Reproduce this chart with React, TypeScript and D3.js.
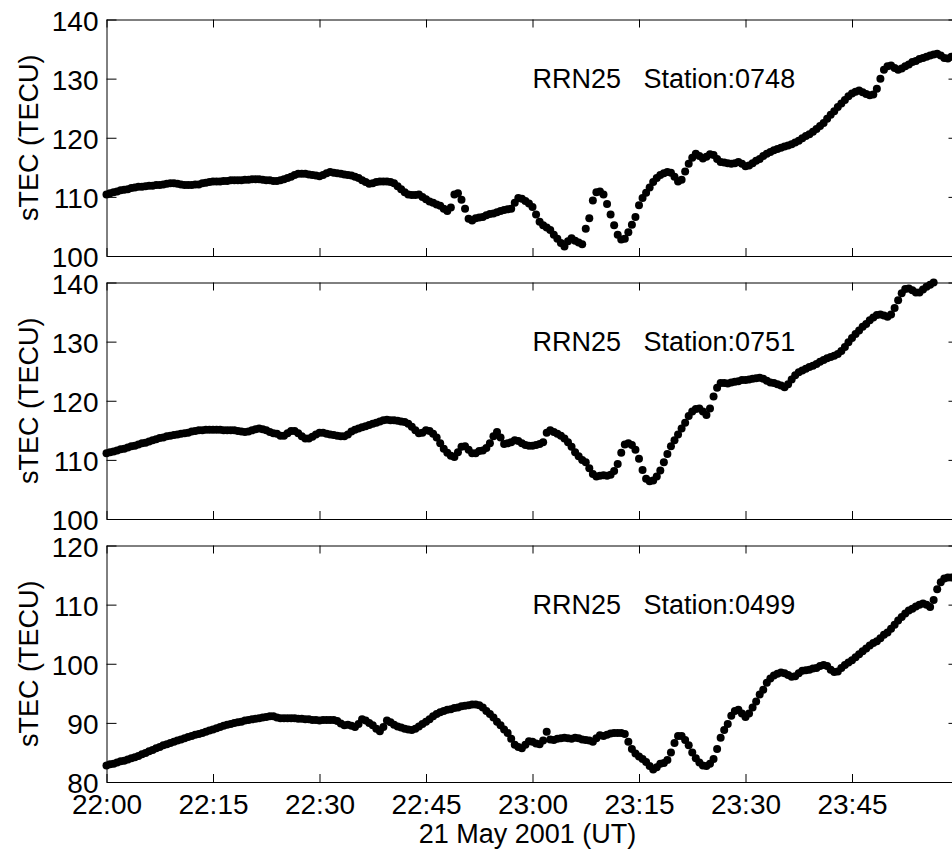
import { useRef, useEffect } from "react";
import { select, scaleLinear, axisLeft, axisRight, axisBottom, axisTop } from "d3";

// Time axis (minutes after 22:00 UT, 21 May 2001)
const xTickMinutes = [0, 15, 30, 45, 60, 75, 90, 105];
const xTickLabels = ["22:00", "22:15", "22:30", "22:45", "23:00", "23:15", "23:30", "23:45"];
const sampleStep = 0.5; // one sample every 30 s

// Panels
const satellite = "RRN25";
const stations = ["0748", "0751", "0499"];
const yDomains = [[100, 140], [100, 140], [80, 120]];
const yTicks = [
    [100, 110, 120, 130, 140],
    [100, 110, 120, 130, 140],
    [80, 90, 100, 110, 120],
];

// sTEC (TECU), 30 s samples from 22:00
const sTec0748 = [
    110.4, 110.6, 110.8, 110.9, 111.1, 111.2, 111.3, 111.5, 111.6, 111.7, 111.7, 111.8, 111.9, 111.9, 112.0, 112.0,
    112.1, 112.2, 112.3, 112.3, 112.2, 112.1, 112.0, 112.0, 112.0, 112.1, 112.1, 112.3, 112.4, 112.5, 112.6, 112.6,
    112.6, 112.7, 112.7, 112.8, 112.8, 112.8, 112.8, 112.9, 112.9, 113.0, 113.0, 113.0, 112.9, 112.8, 112.8, 112.7,
    112.7, 112.8, 113.0, 113.2, 113.4, 113.7, 113.9, 113.9, 113.9, 113.8, 113.7, 113.6, 113.5, 113.7, 114.0, 114.2,
    114.1, 114.0, 113.9, 113.8, 113.7, 113.6, 113.4, 113.2, 112.8, 112.5, 112.2, 112.3, 112.5, 112.6, 112.6, 112.6,
    112.5, 112.3, 111.8, 111.3, 110.8, 110.4, 110.3, 110.3, 110.4, 110.0, 109.6, 109.2, 109.0, 108.7, 108.5, 108.0,
    107.6, 108.2, 110.4, 110.6, 109.5, 108.0, 106.3, 106.0, 106.4, 106.5, 106.6, 106.9, 107.1, 107.2, 107.4, 107.6,
    107.8, 107.9, 108.0, 109.0, 109.8, 109.7, 109.3, 108.9, 108.3, 107.0, 105.8, 105.2, 104.8, 104.4, 103.6, 102.9,
    102.2, 101.6, 102.5, 103.0, 102.6, 102.3, 102.0, 104.6, 106.4, 109.4, 110.8, 110.9, 110.4, 108.8, 107.0, 105.2,
    103.6, 102.8, 102.9, 104.0, 105.3, 106.6, 108.6, 109.8, 110.7, 111.6, 112.5, 113.2, 113.7, 114.0, 114.2, 114.1,
    113.4, 112.6, 112.9, 114.3, 115.6, 116.6, 117.3, 116.9, 116.5, 116.8, 117.2, 117.1, 116.4, 115.9, 115.8, 115.7,
    115.6, 115.7, 115.9, 115.6, 115.2, 115.3, 115.7, 116.1, 116.4, 116.9, 117.3, 117.6, 117.9, 118.1, 118.3, 118.5,
    118.7, 118.9, 119.2, 119.5, 119.9, 120.3, 120.6, 121.0, 121.5, 122.0, 122.5, 123.2, 123.9, 124.5, 125.2, 125.8,
    126.4, 127.0, 127.5, 127.8, 128.0, 127.7, 127.4, 127.2, 127.3, 128.3, 130.0, 131.5, 132.1, 132.2, 131.8, 131.5,
    131.7, 132.1, 132.4, 132.8, 133.0, 133.3, 133.5, 133.7, 133.9, 134.1, 134.2, 133.9, 133.5, 133.4, 133.7,
];

const sTec0751 = [
    111.1, 111.3, 111.4, 111.6, 111.8, 111.9, 112.1, 112.3, 112.4, 112.6, 112.8, 112.9, 113.1, 113.3, 113.5, 113.7,
    113.8, 114.0, 114.1, 114.2, 114.3, 114.4, 114.5, 114.6, 114.8, 114.9, 115.0, 115.0, 115.1, 115.1, 115.1, 115.1,
    115.1, 115.0, 115.0, 115.0, 115.0, 114.9, 114.8, 114.7, 114.8, 115.0, 115.2, 115.3, 115.2, 115.0, 114.7, 114.5,
    114.4, 114.1, 114.1, 114.5, 114.9, 114.9, 114.5, 114.0, 113.6, 113.6, 113.9, 114.3, 114.6, 114.6, 114.4, 114.3,
    114.2, 114.1, 114.0, 114.0, 114.3, 114.8, 115.1, 115.3, 115.5, 115.7, 115.9, 116.1, 116.3, 116.5, 116.7, 116.8,
    116.7, 116.7, 116.6, 116.5, 116.4, 116.1, 115.6, 115.0, 114.5, 114.6, 115.0, 114.9, 114.4, 113.8, 112.8, 111.9,
    111.2, 110.7, 110.5, 111.3, 112.2, 112.3, 111.7, 111.1, 111.1, 111.5, 111.6, 112.0, 112.8, 114.0, 114.7, 113.8,
    112.7, 112.8, 113.0, 113.3, 113.2, 112.8, 112.5, 112.4, 112.4, 112.5, 112.7, 113.0, 114.6, 115.0, 114.7, 114.4,
    114.1, 113.6, 113.0, 112.2, 111.3, 110.6, 110.0, 109.6, 108.6, 107.6, 107.2, 107.3, 107.4, 107.3, 107.5, 108.1,
    109.3, 111.2, 112.6, 112.8, 112.5, 111.7, 110.2, 108.3, 106.8, 106.4, 106.5, 107.2, 108.2, 109.6, 111.0, 112.3,
    113.3, 114.3, 115.3, 116.3, 117.4, 118.2, 118.6, 118.7, 118.2, 117.6, 118.7, 120.7, 122.2, 123.0, 123.0, 122.9,
    123.1, 123.2, 123.3, 123.5, 123.5, 123.6, 123.7, 123.8, 123.9, 123.7, 123.4, 123.1, 123.0, 122.8, 122.6, 122.3,
    122.8, 123.6, 124.3, 124.8, 125.1, 125.4, 125.7, 125.9, 126.2, 126.6, 126.9, 127.2, 127.4, 127.6, 127.9, 128.4,
    129.1, 129.9, 130.6, 131.3, 131.9, 132.5, 133.0, 133.6, 134.1, 134.5, 134.6, 134.4, 134.2, 134.6, 135.7, 137.0,
    138.2, 138.9, 139.0, 138.7, 138.3, 138.3, 138.8, 139.3, 139.6, 140.0,
];

const sTec0499 = [
    82.8, 83.0, 83.1, 83.3, 83.5, 83.6, 83.8, 84.0, 84.2, 84.4, 84.7, 84.9, 85.2, 85.4, 85.7, 85.9,
    86.2, 86.4, 86.6, 86.8, 87.0, 87.2, 87.4, 87.6, 87.8, 88.0, 88.1, 88.3, 88.5, 88.7, 88.9, 89.1,
    89.3, 89.5, 89.7, 89.8, 90.0, 90.1, 90.2, 90.4, 90.5, 90.6, 90.7, 90.8, 90.9, 91.0, 91.1, 91.1,
    90.9, 90.8, 90.8, 90.8, 90.8, 90.8, 90.7, 90.7, 90.6, 90.6, 90.5, 90.5, 90.4, 90.5, 90.5, 90.5,
    90.5, 90.3, 89.9, 89.6, 89.7, 89.5, 89.3, 89.8, 90.6, 90.4, 90.0, 89.6, 89.0, 88.6, 89.3, 90.4,
    90.1, 89.7, 89.4, 89.2, 89.0, 88.9, 88.8, 89.0, 89.4, 89.8, 90.2, 90.6, 91.1, 91.5, 91.8, 92.0,
    92.2, 92.3, 92.5, 92.6, 92.8, 92.9, 93.0, 93.1, 93.1, 93.0, 92.6, 92.0, 91.5, 90.9, 90.2, 89.6,
    88.9, 88.3, 87.3, 86.3, 85.9, 85.7, 86.3, 86.9, 86.8, 86.5, 86.4, 87.0, 88.5, 87.2, 87.1, 87.3,
    87.4, 87.5, 87.4, 87.3, 87.5, 87.4, 87.2, 87.1, 87.0, 86.8, 87.4, 87.9, 87.8, 88.0, 88.2, 88.3,
    88.3, 88.3, 88.1, 86.8, 85.6, 84.8, 84.3, 83.9, 83.4, 82.7, 82.1, 82.5, 83.1, 83.2, 83.7, 85.0,
    86.6, 87.8, 87.8, 87.1, 86.2, 85.0, 84.0, 83.3, 82.8, 82.7, 83.1, 83.9, 85.6, 87.5, 88.8, 89.8,
    91.2, 92.0, 92.2, 91.6, 91.0, 91.6, 92.6, 93.6, 94.8, 95.6, 96.8, 97.5, 98.0, 98.3, 98.5, 98.4,
    98.1, 97.8, 97.9, 98.4, 98.8, 98.9, 99.0, 99.2, 99.3, 99.6, 99.8, 99.6, 99.0, 98.6, 98.7, 99.3,
    99.8, 100.2, 100.6, 101.1, 101.6, 102.1, 102.6, 103.1, 103.5, 103.8, 104.3, 104.9, 105.3, 105.9, 106.6, 107.3,
    107.9, 108.5, 109.0, 109.3, 109.7, 110.0, 110.2, 110.0, 109.6, 110.8, 112.6, 113.8, 114.4, 114.6, 114.6,
];

const series = [sTec0748, sTec0751, sTec0499];

// Layout
const width = 952;
const height = 849;
const left = 106.5;
const right = 958.5;
const panelTops = [19.5, 282.5, 545.5];
const panelHeight = 236.5;
const font = "'Liberation Sans', Arial, Helvetica, sans-serif";
const tickFontSize = 28;
const labelFontSize = 27;

const App = () => {
    const svgRef = useRef(null);

    useEffect(() => {
        const svg = select(svgRef.current);
        svg.selectAll("*").remove();

        const xScale = scaleLinear().domain([0, 120]).range([0, right - left]);

        series.forEach((values, p) => {
            const top = panelTops[p];
            const yScale = scaleLinear().domain(yDomains[p]).range([panelHeight, 0]);
            const g = svg.append("g").attr("transform", `translate(${left},${top})`);

            // data points
            g.append("g")
                .selectAll("circle")
                .data(values)
                .join("circle")
                .attr("cx", (d, i) => xScale(i * sampleStep))
                .attr("cy", (d) => yScale(d))
                .attr("r", 4)
                .attr("fill", "#000");

            // axes (box, ticks pointing in)
            const isLast = p === series.length - 1;
            const xBottom = axisBottom(xScale)
                .tickValues(xTickMinutes)
                .tickSizeInner(-8)
                .tickSizeOuter(0)
                .tickPadding(isLast ? 12 : 0)
                .tickFormat((d, i) => (isLast ? xTickLabels[i] : ""));
            const xTop = axisTop(xScale).tickValues(xTickMinutes).tickSizeInner(-8).tickSizeOuter(0).tickFormat(() => "");
            const yLeft = axisLeft(yScale).tickValues(yTicks[p]).tickSizeInner(-10).tickSizeOuter(0).tickPadding(8);
            const yRight = axisRight(yScale).tickValues(yTicks[p]).tickSizeInner(-10).tickSizeOuter(0).tickFormat(() => "");

            g.append("g").attr("class", "x-bottom").attr("transform", `translate(0,${panelHeight})`).call(xBottom);
            g.append("g").call(xTop);
            g.append("g").attr("class", "y-left").call(yLeft);
            g.append("g").attr("transform", `translate(${right - left},0)`).call(yRight);

            g.selectAll("g").attr("font-size", null).attr("font-family", null);
            g.selectAll(".domain").attr("stroke", "#000").attr("stroke-width", 1);
            g.selectAll(".tick line").attr("stroke", "#000").attr("stroke-width", 1);
            g.selectAll(".tick text")
                .attr("fill", "#000")
                .attr("font-size", tickFontSize)
                .attr("font-family", font);
            // y tick labels: baseline a little below the tick
            g.selectAll(".y-left .tick text").attr("dy", "0.38em");

            // y label
            g.append("text")
                .attr("transform", `translate(${38 - left},${panelHeight / 2}) rotate(-90)`)
                .attr("text-anchor", "middle")
                .attr("font-size", labelFontSize)
                .attr("font-family", font)
                .text("sTEC (TECU)");

            // station annotation
            g.append("text")
                .attr("x", xScale(60))
                .attr("y", 68)
                .attr("font-size", labelFontSize)
                .attr("font-family", font)
                .style("white-space", "pre")
                .text(`${satellite}   Station:${stations[p]}`);
        });

        // x label
        svg.append("text")
            .attr("x", (left + right) / 2 - 5)
            .attr("y", 843)
            .attr("text-anchor", "middle")
            .attr("font-size", labelFontSize)
            .attr("font-family", font)
            .text("21 May 2001 (UT)");
    }, []);

    return (
        <svg
            ref={svgRef}
            width={width}
            height={height}
            style={{ position: "absolute", left: 0, top: 0, background: "#fff" }}
        ></svg>
    );
};

export default App;
